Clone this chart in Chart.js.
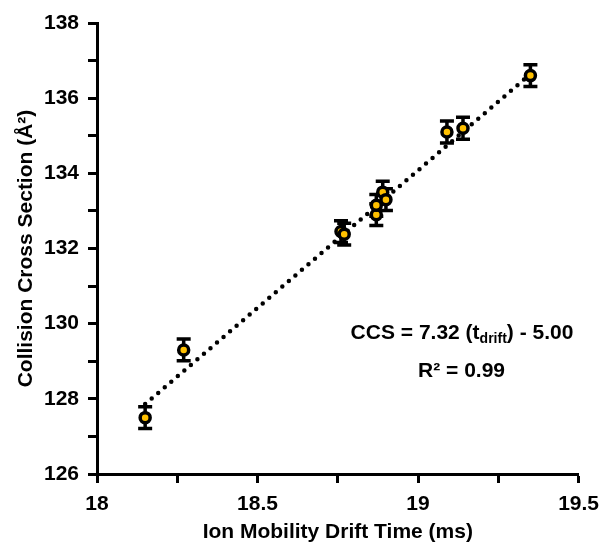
<!DOCTYPE html>
<html>
<head>
<meta charset="utf-8">
<script src="https://cdn.jsdelivr.net/npm/chart.js@4.4.0/dist/chart.umd.min.js"></script>
<style>
  html, body { margin: 0; padding: 0; background: #fff; }
  #wrap { width: 608px; height: 546px; }
</style>
</head>
<body>
<div id="wrap"><canvas id="ccs_chart"></canvas></div>
<script>
// measured points (drift time in ms, CCS in A^2) with error bars
var driftTime = [18.15, 18.27, 18.76, 18.77, 18.87, 18.87, 18.89, 18.90, 19.09, 19.14, 19.35];
var ccsValue  = [127.5, 129.3, 132.45, 132.38, 132.9, 133.15, 133.5, 133.3, 135.1, 135.2, 136.6];
var ccsError  = [0.29, 0.29, 0.29, 0.29, 0.29, 0.29, 0.29, 0.29, 0.29, 0.29, 0.29];

// linear fit end points
var trendTime = [18.15, 19.35];
var trendCcs  = [127.86, 136.64];

// axis ticks
var xTickLabels = ['18', '18.5', '19', '19.5'];
var yTickLabels = ['126', '128', '130', '132', '134', '136', '138'];

// fit text
var fitLabel = ['CCS = 7.32 (t', 'drift', ') - 5.00'];
var r2Label = 'R\u00b2 = 0.99';
var fitPos = [18.79, 129.59];
var r2Pos = [19.0, 128.58];

var FONT = '"Liberation Sans", Arial, Helvetica, sans-serif';

var errorBars = {
  id: 'errorBars',
  beforeDatasetsDraw: function(chart) {
    var ctx = chart.ctx, xs = chart.scales.x, ys = chart.scales.y;
    ctx.save();
    ctx.strokeStyle = '#000';
    ctx.lineWidth = 3.5;
    for (var i = 0; i < driftTime.length; i++) {
      var px = xs.getPixelForValue(driftTime[i]);
      var top = ys.getPixelForValue(ccsValue[i] + ccsError[i]);
      var bot = ys.getPixelForValue(ccsValue[i] - ccsError[i]);
      ctx.beginPath();
      ctx.moveTo(px, top); ctx.lineTo(px, bot);
      ctx.moveTo(px - 7, top); ctx.lineTo(px + 7, top);
      ctx.moveTo(px - 7, bot); ctx.lineTo(px + 7, bot);
      ctx.stroke();
    }
    ctx.restore();
  }
};

var fitText = {
  id: 'fitText',
  afterDraw: function(chart) {
    var ctx = chart.ctx, xs = chart.scales.x, ys = chart.scales.y;
    var x0 = xs.getPixelForValue(fitPos[0]), y0 = ys.getPixelForValue(fitPos[1]);
    ctx.save();
    ctx.fillStyle = '#000';
    ctx.textAlign = 'left';
    ctx.textBaseline = 'alphabetic';
    ctx.font = 'bold 21px ' + FONT;
    ctx.fillText(fitLabel[0], x0, y0);
    var w = ctx.measureText(fitLabel[0]).width;
    ctx.font = 'bold 14px ' + FONT;
    ctx.fillText(fitLabel[1], x0 + w, y0 + 4);
    w += ctx.measureText(fitLabel[1]).width;
    ctx.font = 'bold 21px ' + FONT;
    ctx.fillText(fitLabel[2], x0 + w, y0);
    ctx.fillText(r2Label, xs.getPixelForValue(r2Pos[0]), ys.getPixelForValue(r2Pos[1]));
    ctx.restore();
  }
};

var points = [];
for (var i = 0; i < driftTime.length; i++) points.push({x: driftTime[i], y: ccsValue[i]});
var trend = [];
for (var j = 0; j < trendTime.length; j++) trend.push({x: trendTime[j], y: trendCcs[j]});

var ctx = document.getElementById('ccs_chart').getContext('2d');
var chart = new Chart(ctx, {
  type: 'scatter',
  data: {
    datasets: [{
      label: 'fit',
      type: 'line',
      data: trend,
      order: 2,
      borderColor: '#000',
      borderWidth: 4.5,
      borderDash: [0, 8.6],
      borderCapStyle: 'round',
      pointRadius: 0,
      fill: false
    }, {
      label: 'CCS',
      data: points,
      order: 1,
      pointRadius: 5,
      pointBorderWidth: 3.5,
      backgroundColor: '#FFC000',
      borderColor: '#000'
    }]
  },
  plugins: [errorBars, fitText],
  options: {
    responsive: true,
    maintainAspectRatio: false,
    animation: false,
    layout: { padding: { top: 23, right: 23, left: 0, bottom: 0 } },
    plugins: { legend: { display: false }, tooltip: { enabled: false } },
    scales: {
      x: {
        type: 'linear', min: 18, max: 19.5,
        ticks: {
          stepSize: 0.25, autoSkip: false, maxRotation: 0, padding: 9, color: '#000',
          font: { family: FONT, size: 21, weight: 'bold' },
          callback: function(v) { var k = xTickLabels.indexOf(String(v)); return k >= 0 ? xTickLabels[k] : ''; }
        },
        grid: { display: true, drawOnChartArea: false, drawTicks: true, tickLength: 9, tickWidth: 3, tickColor: '#000' },
        border: { display: true, color: '#000', width: 3 },
        title: { display: true, text: 'Ion Mobility Drift Time (ms)', color: '#000',
                 font: { family: FONT, size: 21, weight: 'bold' }, padding: { top: 0, bottom: 1 } },
        afterFit: function(s) { s.height = 72; }
      },
      y: {
        type: 'linear', min: 126, max: 138,
        ticks: {
          stepSize: 1, autoSkip: false, padding: 9, color: '#000',
          font: { family: FONT, size: 21, weight: 'bold' },
          callback: function(v) { var k = yTickLabels.indexOf(String(v)); return k >= 0 ? yTickLabels[k] : ''; }
        },
        grid: { display: true, drawOnChartArea: false, drawTicks: true, tickLength: 9, tickWidth: 3, tickColor: '#000' },
        border: { display: true, color: '#000', width: 3 },
        title: { display: true, text: 'Collision Cross Section (\u00c5\u00b2)', color: '#000',
                 font: { family: FONT, size: 21, weight: 'bold' }, padding: { top: 14, bottom: 0 } },
        afterFit: function(s) { s.width = 97; }
      }
    }
  }
});
</script>
</body>
</html>
